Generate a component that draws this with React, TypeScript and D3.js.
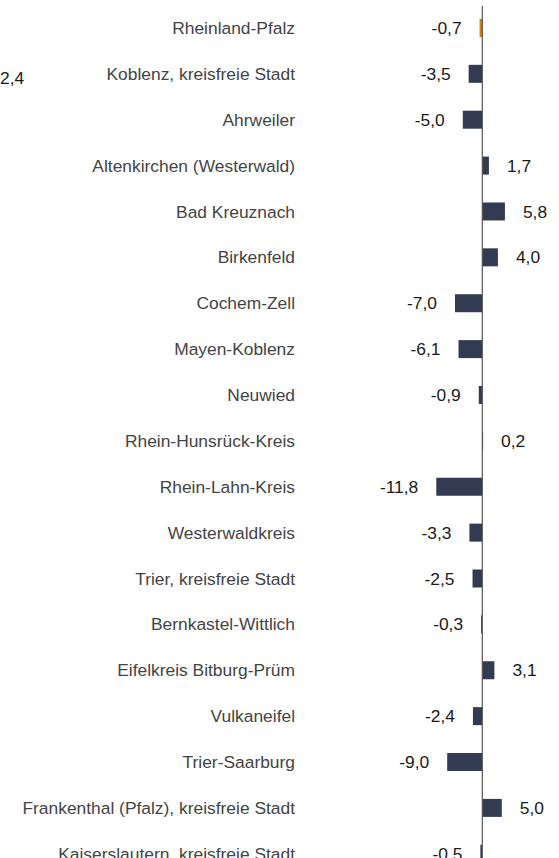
import React from "react";
import * as d3 from "d3";

const categories = [
  "Rheinland-Pfalz",
  "Koblenz, kreisfreie Stadt",
  "Ahrweiler",
  "Altenkirchen (Westerwald)",
  "Bad Kreuznach",
  "Birkenfeld",
  "Cochem-Zell",
  "Mayen-Koblenz",
  "Neuwied",
  "Rhein-Hunsrück-Kreis",
  "Rhein-Lahn-Kreis",
  "Westerwaldkreis",
  "Trier, kreisfreie Stadt",
  "Bernkastel-Wittlich",
  "Eifelkreis Bitburg-Prüm",
  "Vulkaneifel",
  "Trier-Saarburg",
  "Frankenthal (Pfalz), kreisfreie Stadt",
  "Kaiserslautern, kreisfreie Stadt",
];

const values = [
  -0.7, -3.5, -5.0, 1.7, 5.8, 4.0, -7.0, -6.1, -0.9, 0.2, -11.8, -3.3, -2.5,
  -0.3, 3.1, -2.4, -9.0, 5.0, -0.5,
];

const highlighted = ["Rheinland-Pfalz"];

// Stray clipped label visible at left edge of the reference
const strayLabels = [{ text: "2,4", category: "Koblenz, kreisfreie Stadt" }];

const W = 559;
const H = 858;

export default function App() {
  const zeroX = 482.3;
  const pxPerUnit = 3.9;
  const x = d3
    .scaleLinear()
    .domain([-12, 6])
    .range([zeroX - 12 * pxPerUnit, zeroX + 6 * pxPerUnit]);
  const step = 45.88;
  const y = d3
    .scaleBand<string>()
    .domain(categories)
    .range([5, 5 + categories.length * step])
    .paddingInner(0)
    .paddingOuter(0);
  const barH = 18;
  const fmt = (v: number) => v.toFixed(1).replace(".", ",");
  const font = "Liberation Sans, Arial, sans-serif";
  const fs = 17.4;

  return (
    <svg
      width={W}
      height={H}
      style={{ position: "absolute", left: 0, top: 0, background: "#fff" }}
      fontFamily={font}
    >
      {categories.map((c, i) => {
        const v = values[i];
        const cy = (y(c) as number) + y.bandwidth() / 2;
        const x0 = x(Math.min(0, v));
        const x1 = x(Math.max(0, v));
        const isHi = highlighted.includes(c);
        return (
          <g key={c}>
            <text
              x={295}
              y={cy}
              dy="0.35em"
              textAnchor="end"
              fontSize={fs}
              fill="#444"
            >
              {c}
            </text>
            <rect
              x={x0}
              y={cy - barH / 2}
              width={Math.max(0.8, x1 - x0)}
              height={barH}
              fill={isHi ? "#e07b0f" : "#323b52"}
            />
            <text
              x={v < 0 ? x0 - 18 : x1 + 18}
              y={cy}
              dy="0.35em"
              textAnchor={v < 0 ? "end" : "start"}
              fontSize={fs}
              fill="#1a1a1a"
            >
              {fmt(v)}
            </text>
          </g>
        );
      })}
      {strayLabels.map((s) => (
        <text
          key={s.text}
          x={0}
          y={(y(s.category) as number) + y.bandwidth() / 2 + 4}
          dy="0.35em"
          fontSize={fs}
          fill="#1a1a1a"
        >
          {s.text}
        </text>
      ))}
      <line
        x1={x(0)}
        x2={x(0)}
        y1={6}
        y2={H}
        stroke="#555"
        strokeWidth={1.2}
      />
    </svg>
  );
}
